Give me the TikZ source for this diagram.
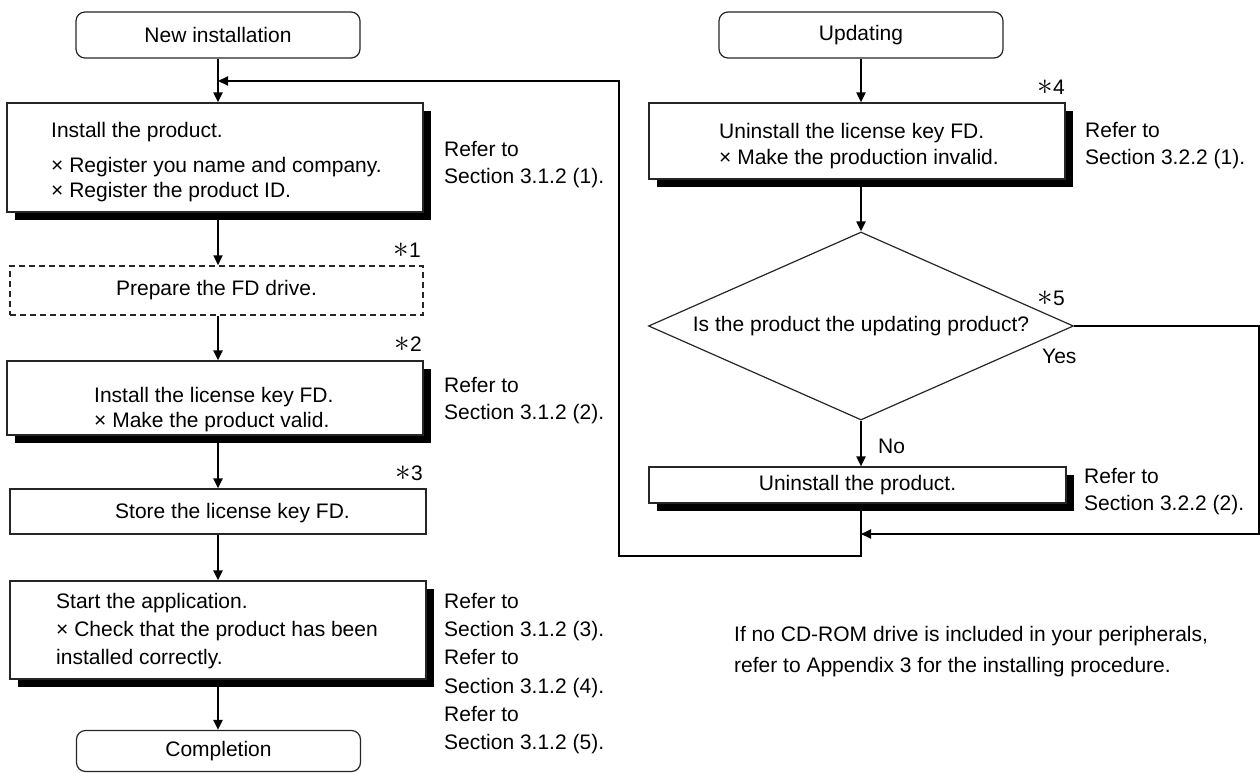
\documentclass[tikz,border=0pt]{standalone}
\usepackage{graphicx}
\usepackage{fontspec}
\setmainfont{Liberation Sans}
\usetikzlibrary{arrows.meta,shapes.geometric,shadows}
\newcommand{\astk}{\scalebox{1.5}{$\ast$}}

\begin{document}
\begin{tikzpicture}[x=1pt,y=-1pt,
  txt/.style={font=\fontsize{21pt}{27.5pt}\selectfont, inner sep=0pt},
  boxline/.style={draw=black!85, line width=1.2pt},
  plainbox/.style={boxline, fill=white, rectangle, inner sep=0pt},
  shbox/.style={plainbox, drop shadow={shadow xshift=8pt, shadow yshift=-8pt, opacity=1, fill=black}},
  term/.style={boxline, fill=white, rounded corners=9pt, rectangle, inner sep=0pt, minimum width=284pt, txt},
  conn/.style={line width=2pt},
  arr/.style={conn, -{Triangle[length=10pt,width=9pt]}},
  star/.style={txt, anchor=base east},
  lbl/.style={txt, anchor=base west},
  multi/.style={txt, anchor=north west, align=left},
]
\useasboundingbox (0,0) rectangle (1260,773);

% ---------------- left column ----------------
\coordinate (cl) at (218,0);
\node[term, minimum height=46pt] (start1) at (218,35) {New installation};

\node[shbox, minimum width=416pt, minimum height=109pt] (b1) at (215,157.5) {};
\node[multi, font=\fontsize{21pt}{25pt}\selectfont] (t1) at (51,122)
  {Install the product.\\[10pt]× Register you name and company.\\× Register the product ID.};

\node[plainbox, dash pattern=on 6pt off 4pt, line width=1.5pt, minimum width=413pt, minimum height=49pt, txt] (fd) at (216.5,290.5) {Prepare the FD drive.};

\node[shbox, minimum width=416pt, minimum height=74pt] (b2) at (215,398) {};
\node[multi, font=\fontsize{21pt}{25pt}\selectfont] (t2) at (94,387)
  {Install the license key FD.\\× Make the product valid.};

\node[plainbox, minimum width=416pt, minimum height=45pt] (b3) at (218,511.5) {};
\node[lbl] (t3) at (115,518) {Store the license key FD.};

\node[shbox, minimum width=416pt, minimum height=98pt] (b4) at (218,630) {};
\node[multi, font=\fontsize{21pt}{28pt}\selectfont] (t4) at (56,593)
  {Start the application.\\× Check that the product has been\\installed correctly.};

\node[term, minimum height=41pt] (end1) at (218.5,751) {Completion};

\node[star] (s1) at (421,257) {\astk1};
\node[star] (s2) at (422,351) {\astk2};
\node[star] (s3) at (423,480) {\astk3};

\node[multi] (rf1) at (444,141) {Refer to\\Section 3.1.2 (1).};
\node[multi] (rf2) at (444,377) {Refer to\\Section 3.1.2 (2).};
\node[multi, font=\fontsize{21pt}{28.2pt}\selectfont] (rf4) at (444,593)
  {Refer to\\Section 3.1.2 (3).\\Refer to\\Section 3.1.2 (4).\\Refer to\\Section 3.1.2 (5).};

\draw[arr] (start1.south) -- (start1.south |- b1.north);
\draw[arr] (cl |- b1.south) -- (cl |- fd.north);
\draw[arr] (cl |- fd.south) -- (cl |- b2.north);
\draw[arr] (cl |- b2.south) -- (cl |- b3.north);
\draw[arr] (cl |- b3.south) -- (cl |- b4.north);
\draw[arr] (cl |- b4.south) -- (cl |- end1.north);

% ---------------- right column ----------------
\coordinate (cr) at (861,0);
\node[term, minimum height=46pt] (start2) at (861,35) {Updating};

\node[shbox, minimum width=416pt, minimum height=76pt] (r1) at (857,141) {};
\node[multi, font=\fontsize{21pt}{26pt}\selectfont] (tr1) at (719,123)
  {Uninstall the license key FD.\\× Make the production invalid.};
\node[star] (s4) at (1065,95) {\astk4};
\node[multi] (rfr1) at (1085,122) {Refer to\\Section 3.2.2 (1).};

\node[diamond, boxline, fill=white, aspect=2.26, inner sep=0pt, minimum width=425pt, minimum height=188pt, txt] (dia) at (861,326) {Is the product the updating product?};
\node[star] (s5) at (1065,305) {\astk5};
\node[lbl] (yes) at (1042,363) {Yes};
\node[lbl] (no) at (878,453) {No};

\node[shbox, minimum width=417pt, minimum height=36pt, txt] (r2) at (857.5,485) {Uninstall the product.};
\node[multi] (rfr2) at (1084,468) {Refer to\\Section 3.2.2 (2).};

\node[multi, font=\fontsize{21pt}{31pt}\selectfont] (note) at (734,626)
  {If no CD-ROM drive is included in your peripherals,\\refer to Appendix 3 for the installing procedure.};

\draw[arr] (start2.south) -- (start2.south |- r1.north);
\draw[arr] (cr |- r1.south) -- (dia.north);
\draw[arr] (dia.south) -- (dia.south |- r2.north);

\coordinate (e1) at (1258.5,326);
\coordinate (e2) at (1258.5,534);
\draw[arr] (dia.east) -- (e1) -- (e2) -- (cr |- e2);

\coordinate (f1) at (861,556);
\coordinate (f2) at (619,556);
\coordinate (f3) at (619,81);
\draw[arr] (cr |- r2.south) -- (f1) -- (f2) -- (f3) -- (cl |- f3);
\end{tikzpicture}
\end{document}
